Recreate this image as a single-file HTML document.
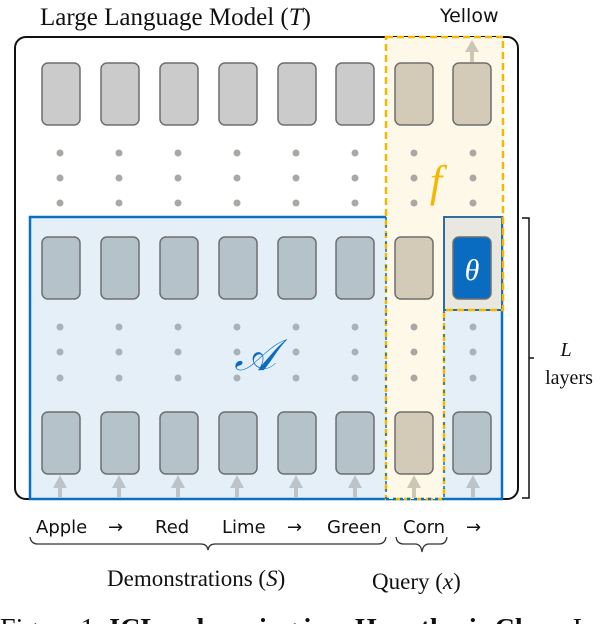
<!DOCTYPE html>
<html><head><meta charset="utf-8"><style>
html,body{margin:0;padding:0;background:#fff;width:602px;height:624px;overflow:hidden}
svg{display:block}
.serif{font-family:"Liberation Serif",serif}
.sans{font-family:"DejaVu Sans","Liberation Sans",sans-serif}
</style></head><body>
<svg width="602" height="624" viewBox="0 0 602 624" xmlns="http://www.w3.org/2000/svg">
<defs>
<g id="arr"><line x1="0" y1="486" x2="0" y2="498" stroke="#bcc4c9" stroke-width="4"/><path d="M-7,488 L0,475 L7,488 Z" fill="#bcc4c9"/></g>
</defs>
<text x="40" y="25" class="serif" font-size="25" fill="#111">Large Language Model (<tspan font-style="italic">T</tspan>)</text>
<text x="440" y="22" class="sans" font-size="19" fill="#111">Yellow</text>
<!-- outer -->
<rect x="15" y="37" width="503" height="462" rx="11" fill="#fff" stroke="#111" stroke-width="2"/>
<!-- blue region -->
<rect x="30" y="217" width="472" height="282" fill="#e5eff8" stroke="#0b6fbf" stroke-width="2.5"/>
<!-- yellow regions -->
<rect x="386" y="37" width="117" height="273" fill="#fdf8e8"/>
<rect x="386" y="37" width="58" height="462" fill="#fdf8e8"/>
<rect x="444" y="217" width="58" height="93" fill="#e8e8e1" stroke="#2f6d9e" stroke-width="2"/>
<path d="M386,37 H503 V310 H444 V499 H386 Z" fill="none" stroke="#f5b800" stroke-width="2.5" stroke-dasharray="7,4"/>
<line x1="386" y1="217" x2="386" y2="499" stroke="#0b6fbf" stroke-width="1.5" stroke-dasharray="3,5"/>
<line x1="444" y1="310" x2="444" y2="499" stroke="#0b6fbf" stroke-width="1.5" stroke-dasharray="3,5"/>
<line x1="386" y1="499" x2="444" y2="499" stroke="#0b6fbf" stroke-width="2.5" stroke-dasharray="3,4"/>
<!-- top arrow -->
<line x1="472" y1="62" x2="472" y2="50" stroke="#cdc6b4" stroke-width="4"/><path d="M465,52 L472,40 L479,52 Z" fill="#cdc6b4"/>
<g stroke="#6e6e6e" stroke-width="1.5">
<!-- top row -->
<rect x="42" y="63" width="38" height="62" rx="6" fill="#cbcbcb"/>
<rect x="101" y="63" width="38" height="62" rx="6" fill="#cbcbcb"/>
<rect x="160" y="63" width="38" height="62" rx="6" fill="#cbcbcb"/>
<rect x="219" y="63" width="38" height="62" rx="6" fill="#cbcbcb"/>
<rect x="278" y="63" width="38" height="62" rx="6" fill="#cbcbcb"/>
<rect x="336" y="63" width="38" height="62" rx="6" fill="#cbcbcb"/>
<rect x="395" y="63" width="38" height="62" rx="6" fill="#d3cbb8"/>
<rect x="453" y="63" width="38" height="62" rx="6" fill="#d3cbb8"/>
<!-- middle row -->
<rect x="42" y="237" width="38" height="62" rx="6" fill="#b5c2ca"/>
<rect x="101" y="237" width="38" height="62" rx="6" fill="#b5c2ca"/>
<rect x="160" y="237" width="38" height="62" rx="6" fill="#b5c2ca"/>
<rect x="219" y="237" width="38" height="62" rx="6" fill="#b5c2ca"/>
<rect x="278" y="237" width="38" height="62" rx="6" fill="#b5c2ca"/>
<rect x="336" y="237" width="38" height="62" rx="6" fill="#b5c2ca"/>
<rect x="395" y="237" width="38" height="62" rx="6" fill="#d3cbb8"/>
<rect x="453" y="237" width="38" height="62" rx="6" fill="#0a6cc0"/>
<!-- bottom row -->
<rect x="42" y="412" width="38" height="62" rx="6" fill="#b5c2ca"/>
<rect x="101" y="412" width="38" height="62" rx="6" fill="#b5c2ca"/>
<rect x="160" y="412" width="38" height="62" rx="6" fill="#b5c2ca"/>
<rect x="219" y="412" width="38" height="62" rx="6" fill="#b5c2ca"/>
<rect x="278" y="412" width="38" height="62" rx="6" fill="#b5c2ca"/>
<rect x="336" y="412" width="38" height="62" rx="6" fill="#b5c2ca"/>
<rect x="395" y="412" width="38" height="62" rx="6" fill="#d3cbb8"/>
<rect x="453" y="412" width="38" height="62" rx="6" fill="#b5c2ca"/>
</g>
<text x="472" y="280" class="serif" font-size="30" font-style="italic" fill="#fff" text-anchor="middle">θ</text>
<!-- dots -->
<g fill="#aaa8a2">
<circle cx="60" cy="153" r="3.5"/><circle cx="60" cy="178" r="3.5"/><circle cx="60" cy="203" r="3.5"/>
<circle cx="119" cy="153" r="3.5"/><circle cx="119" cy="178" r="3.5"/><circle cx="119" cy="203" r="3.5"/>
<circle cx="178" cy="153" r="3.5"/><circle cx="178" cy="178" r="3.5"/><circle cx="178" cy="203" r="3.5"/>
<circle cx="237" cy="153" r="3.5"/><circle cx="237" cy="178" r="3.5"/><circle cx="237" cy="203" r="3.5"/>
<circle cx="296" cy="153" r="3.5"/><circle cx="296" cy="178" r="3.5"/><circle cx="296" cy="203" r="3.5"/>
<circle cx="355" cy="153" r="3.5"/><circle cx="355" cy="178" r="3.5"/><circle cx="355" cy="203" r="3.5"/>
<circle cx="414" cy="153" r="3.5"/><circle cx="414" cy="178" r="3.5"/><circle cx="414" cy="203" r="3.5"/>
<circle cx="473" cy="153" r="3.5"/><circle cx="473" cy="178" r="3.5"/><circle cx="473" cy="203" r="3.5"/>
</g>
<g fill="#a7b2ba">
<circle cx="60" cy="327" r="3.5"/><circle cx="60" cy="352" r="3.5"/><circle cx="60" cy="378" r="3.5"/>
<circle cx="119" cy="327" r="3.5"/><circle cx="119" cy="352" r="3.5"/><circle cx="119" cy="378" r="3.5"/>
<circle cx="178" cy="327" r="3.5"/><circle cx="178" cy="352" r="3.5"/><circle cx="178" cy="378" r="3.5"/>
<circle cx="237" cy="327" r="3.5"/><circle cx="237" cy="352" r="3.5"/><circle cx="237" cy="378" r="3.5"/>
<circle cx="296" cy="327" r="3.5"/><circle cx="296" cy="352" r="3.5"/><circle cx="296" cy="378" r="3.5"/>
<circle cx="355" cy="327" r="3.5"/><circle cx="355" cy="352" r="3.5"/><circle cx="355" cy="378" r="3.5"/>
<circle cx="414" cy="327" r="3.5" fill="#aaa8a2"/><circle cx="414" cy="352" r="3.5" fill="#aaa8a2"/><circle cx="414" cy="378" r="3.5" fill="#aaa8a2"/>
<circle cx="473" cy="327" r="3.5"/><circle cx="473" cy="352" r="3.5"/><circle cx="473" cy="378" r="3.5"/>
</g>
<text x="436" y="196" class="serif" font-size="44" font-style="italic" fill="#f5b800" text-anchor="middle">f</text>
<text x="255" y="370" class="serif" font-size="44" font-style="italic" fill="#0a6cc0" text-anchor="middle">𝒜</text>
<!-- arrows -->
<use href="#arr" x="60"/><use href="#arr" x="119"/><use href="#arr" x="178"/><use href="#arr" x="237"/>
<use href="#arr" x="296"/><use href="#arr" x="355"/>
<line x1="414" y1="486" x2="414" y2="498" stroke="#cdc6b4" stroke-width="4"/><path d="M407,488 L414,475 L421,488 Z" fill="#cdc6b4"/>
<use href="#arr" x="473"/>
<!-- L layers bracket -->
<path d="M522,218 H529 V498 H522 M529,358 H534" fill="none" stroke="#111" stroke-width="1.5"/>
<text x="566" y="356" class="serif" font-size="20" font-style="italic" fill="#111" text-anchor="middle">L</text>
<text x="569" y="384" class="serif" font-size="20" fill="#111" text-anchor="middle">layers</text>
<!-- tokens -->
<g class="sans" font-size="18" fill="#111">
<text x="36" y="533">Apple</text><text x="108" y="533">→</text>
<text x="155" y="533">Red</text><text x="222" y="533">Lime</text>
<text x="287" y="533">→</text><text x="327" y="533">Green</text>
<text x="403" y="533">Corn</text><text x="466" y="533">→</text>
</g>
<path d="M30,537 Q31,544 38,544 H201 Q207,544 208,550 Q209,544 215,544 H378 Q385,544 386,537" fill="none" stroke="#333" stroke-width="1.3"/>
<path d="M396,537 Q397,544 404,544 H415 Q421,544 422,552 Q423,544 429,544 H440 Q446,544 447,537" fill="none" stroke="#333" stroke-width="1.3"/>
<text x="107" y="586" class="serif" font-size="23" fill="#111">Demonstrations (<tspan font-style="italic">S</tspan>)</text>
<text x="372" y="589" class="serif" font-size="23" fill="#111">Query (<tspan font-style="italic">x</tspan>)</text>
<text x="0" y="637" class="serif" font-size="27" fill="#111" textLength="596" lengthAdjust="spacingAndGlyphs">Figure 1: <tspan font-weight="bold">ICL as learning in a Hypothesis Class.</tspan> In</text>
</svg>
</body></html>
